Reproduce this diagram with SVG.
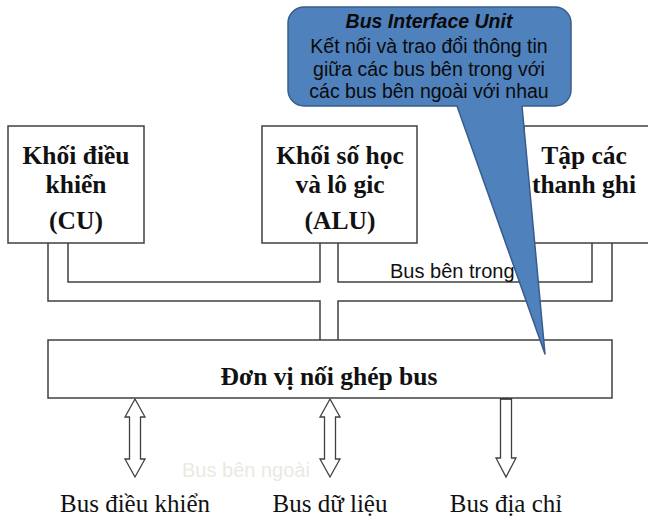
<svg xmlns="http://www.w3.org/2000/svg" width="648" height="516" viewBox="0 0 648 516">
  <style>
    .box { fill: #ffffff; stroke: #404040; stroke-width: 1.5; }
    .bus { fill: none; stroke: #404040; stroke-width: 1.5; }
    .arrow { fill: #ffffff; stroke: #404040; stroke-width: 1.3; stroke-linejoin: miter; }
    .blk { font-family: "Liberation Serif", "Times New Roman", serif; font-size: 25.5px; font-weight: bold; fill: #111111; text-anchor: middle; }
    .lbl { font-family: "Liberation Serif", "Times New Roman", serif; font-size: 25px; fill: #111111; text-anchor: middle; }
    .sans { font-family: "Liberation Sans", Arial, sans-serif; font-size: 20px; }
    .call { fill: #4f81bd; stroke: #385d8a; stroke-width: 1.5; stroke-linejoin: round; }
    .ctext { font-family: "Liberation Sans", Arial, sans-serif; font-size: 19.5px; fill: #0a0a0a; text-anchor: middle; }
  </style>

  <rect width="648" height="516" fill="#ffffff"/>

  <!-- internal bus lines -->
  <g id="connectors">
    <path class="bus" d="M48,243 V301 H320 V340"/>
    <path class="bus" d="M68,243 V282 H320 V243"/>
    <path class="bus" d="M338,243 V282 H592 V243"/>
    <path class="bus" d="M338,340 V301 H612 V243"/>
    <!-- external buses -->
    <path class="arrow" d="M135,399 L145,417 H140.5 V459 H145 L135,477 L125,459 H129.5 V417 H125 Z"/>
    <path class="arrow" d="M330,399 L340,417 H335.5 V459 H340 L330,477 L320,459 H324.5 V417 H320 Z"/>
    <path class="arrow" d="M500.5,398 H511.5 V458 H516 L506,477 L496,458 H500.5 Z"/>
    <line x1="500.5" y1="398.5" x2="511.5" y2="398.5" stroke="#202020" stroke-width="2.5"/>
  </g>

  <g id="cu">
    <rect class="box" x="8" y="126" width="136" height="117"/>
    <text class="blk" x="76" y="164">Khối điều</text>
    <text class="blk" x="76" y="193">khiển</text>
    <text class="blk" x="76" y="229">(CU)</text>
  </g>

  <g id="alu">
    <rect class="box" x="262" y="126" width="155" height="117"/>
    <text class="blk" x="340" y="164">Khối số học</text>
    <text class="blk" x="340" y="193">và lô gic</text>
    <text class="blk" x="340" y="229">(ALU)</text>
  </g>

  <g id="registers">
    <rect class="box" x="524" y="126" width="130" height="117"/>
    <text class="blk" x="584" y="164">Tập các</text>
    <text class="blk" x="584" y="193">thanh ghi</text>
  </g>

  <text id="internal-bus" class="sans" x="390" y="278" fill="#111111">Bus bên trong</text>

  <g id="biu">
    <rect class="box" x="48" y="340" width="564" height="58"/>
    <text class="blk" x="329" y="385">Đơn vị nối ghép bus</text>
  </g>

  <text id="external-bus" class="sans" x="182" y="477" fill="#e8ebdf">Bus bên ngoài</text>

  <g id="bus-labels">
    <text class="lbl" x="135" y="512">Bus điều khiển</text>
    <text class="lbl" x="330" y="512">Bus dữ liệu</text>
    <text class="lbl" x="506" y="512">Bus địa chỉ</text>
  </g>

  <!-- callout describing the bus interface unit -->
  <g id="callout">
    <path class="call" d="M304,7 H555 A16,16 0 0 1 571,23 V90 A16,16 0 0 1 555,106 H522 L545,354 L457,106 H304 A16,16 0 0 1 288,90 V23 A16,16 0 0 1 304,7 Z"/>
    <text class="ctext" x="429" y="28" font-weight="bold" font-style="italic">Bus Interface Unit</text>
    <text class="ctext" x="429" y="53">Kết nối và trao đổi thông tin</text>
    <text class="ctext" x="429" y="76">giữa các bus bên trong với</text>
    <text class="ctext" x="429" y="98">các bus bên ngoài với nhau</text>
  </g>
</svg>
